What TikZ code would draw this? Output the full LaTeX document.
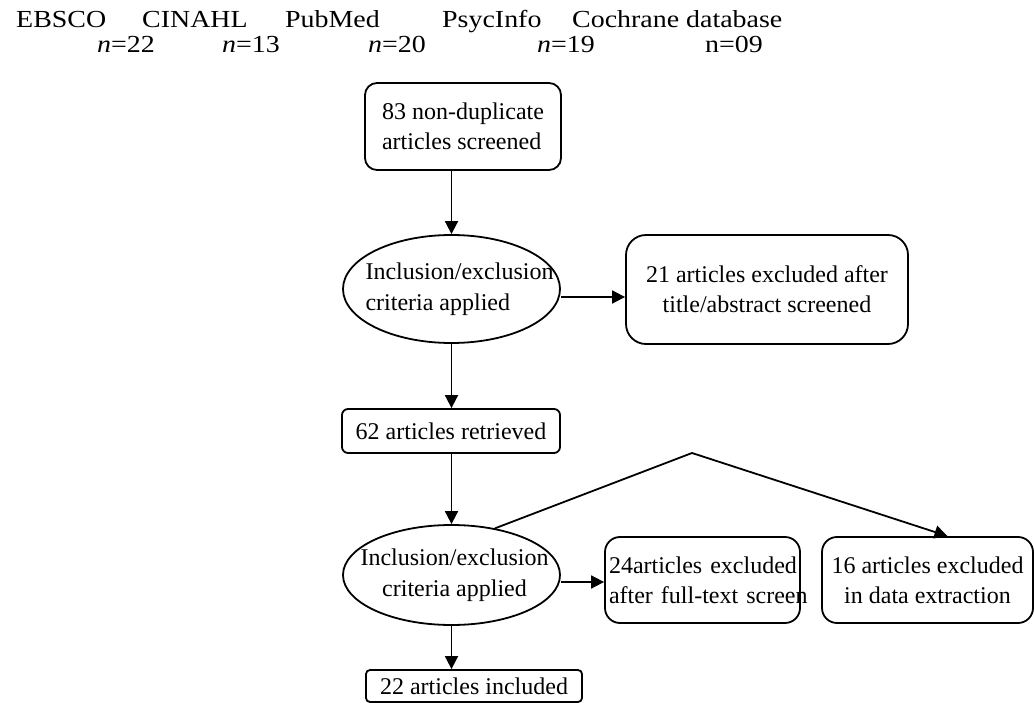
\documentclass[tikz,border=0pt]{standalone}
\usepackage{fontspec}
\setmainfont{Liberation Serif}
\newfontfamily\dbfont[FakeStretch=1.14]{Liberation Serif}
\usetikzlibrary{arrows.meta, shapes.geometric}

\begin{document}
\begin{tikzpicture}[x=1pt, y=-1pt,
  dbname/.style={anchor=base west, inner sep=0pt, font=\dbfont\fontsize{24.5}{30}\selectfont},
  stage/.style={rectangle, draw, line width=1.8pt, inner sep=0pt,
                font=\fontsize{24}{30}\selectfont},
  crit/.style={ellipse, draw, line width=1.8pt, inner sep=0pt, minimum width=217pt},
  crittext/.style={align=left, font=\fontsize{24}{31}\selectfont},
  arr/.style={-{Triangle[length=13pt, width=13pt]}, line width=1.8pt}]
  \useasboundingbox (0,0) rectangle (1034,703);
  % databases searched
  \node[dbname] (ebsco)    at (16,28)  {EBSCO};
  \node[dbname] (cinahl)   at (142,28) {CINAHL};
  \node[dbname] (pubmed)   at (285,28) {PubMed};
  \node[dbname] (psycinfo) at (442,28) {PsycInfo};
  \node[dbname] (cochrane) at (572,28) {Cochrane database};
  \node[dbname] (nebsco)    at (97,53)  {\textit{n}=22};
  \node[dbname] (ncinahl)   at (222,53) {\textit{n}=13};
  \node[dbname] (npubmed)   at (368,53) {\textit{n}=20};
  \node[dbname] (npsycinfo) at (537,53) {\textit{n}=19};
  \node[dbname] (ncochrane) at (705,53) {n=09};
  % screening stages
  \node[stage, rounded corners=12pt, minimum width=196pt, minimum height=87pt, align=left]
       (screened) at (463,126.5) {83 non-duplicate\\articles screened};
  \node[crit, minimum height=108pt,
        label={[crittext, xshift=8pt]center:Inclusion/exclusion\\criteria applied}] (crit1) at (451.5,289) {};
  \node[stage, rounded corners=20pt, minimum width=282pt, minimum height=109pt, align=center]
       (excl1) at (767,289.5) {21 articles excluded after\\title/abstract screened};
  \node[stage, rounded corners=6pt, minimum width=218pt, minimum height=44pt]
       (retrieved) at (451,431) {62 articles retrieved};
  \node[crit, minimum height=100pt,
        label={[crittext, align=center, xshift=3pt]center:Inclusion/exclusion\\criteria applied}] (crit2) at (451.5,575) {};
  \node[stage, rounded corners=15pt, minimum height=86pt, text width=187pt, inner xsep=4pt, align=left]
       (excl2) at (702.5,580) {\mbox{24articles excluded}\\\mbox{after full-text screen}};
  \node[stage, rounded corners=15pt, minimum width=211pt, minimum height=86pt, align=center]
       (excl3) at (927.5,580) {16 articles excluded\\in data extraction};
  \node[stage, rounded corners=4pt, minimum width=216pt, minimum height=32pt]
       (included) at (474,686) {22 articles included};
  \coordinate (fork) at (692,453);
  % connectors
  \draw[arr] (crit1.north |- screened.south) -- (crit1.north);
  \draw[arr] ([yshift=-8pt]crit1.east) -- ([yshift=-8pt]crit1.east -| excl1.west);
  \draw[arr] (crit1.south) -- (retrieved.north -| crit1.south);
  \draw[arr] (retrieved.south -| crit2.north) -- (crit2.north);
  \draw[arr] ([yshift=-7pt]crit2.east) -- ([yshift=-7pt]crit2.east -| excl2.west);
  \draw[arr] (crit2.47) -- (fork) -- ([xshift=20pt]excl3.north);
  \draw[arr] (crit2.south) -- (included.north -| crit2.south);
\end{tikzpicture}
\end{document}
